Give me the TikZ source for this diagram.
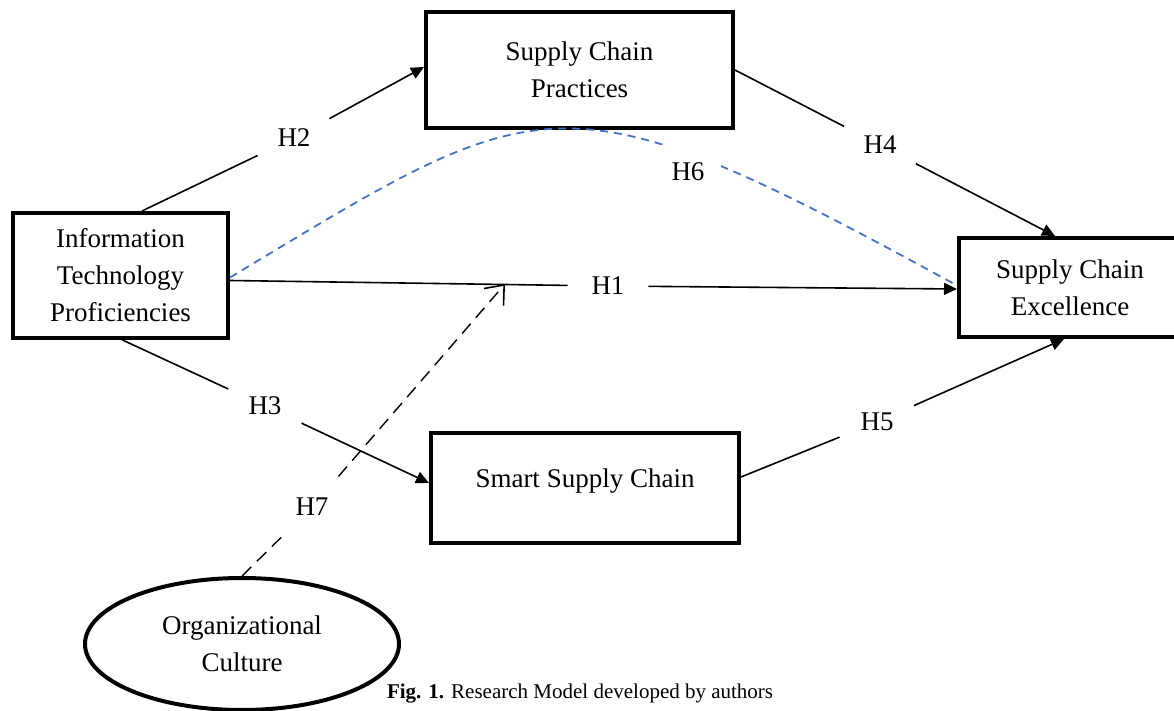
\documentclass[tikz,border=0pt]{standalone}
\usepackage{fontspec}
\setmainfont{Liberation Serif}
\usepackage{xcolor}
\usepackage{tikz}
\usetikzlibrary{arrows.meta,shapes.geometric,calc}
\definecolor{wordblue}{RGB}{68,114,196}

\begin{document}
\begin{tikzpicture}[
  x=0.5pt, y=-0.5pt,
  every node/.style={font=\fontsize{13.5}{18.5}\selectfont},
  construct/.style={draw=black, line width=2pt, align=center, inner sep=0pt},
  hyp/.style={circle, minimum size=40pt, inner sep=0pt},
  conn/.style={line width=0.8pt},
  tip/.style={-{Triangle[length=6.5pt,width=6pt]}},
  moderate/.style={line width=0.7pt, dash pattern=on 6.5pt off 4pt},
  mediate/.style={line width=0.9pt, wordblue, dash pattern=on 4pt off 3pt}
]
\useasboundingbox (0,0) rectangle (1174,711);

\node[construct, minimum width=107.5pt, minimum height=62.5pt] (itp) at (120.5,275.5) {Information\\Technology\\Proficiencies};
\node[construct, minimum width=153.5pt, minimum height=58pt] (scp) at (579.5,70) {Supply Chain\\Practices};
\node[construct, minimum width=111pt, minimum height=49.5pt] (sce) at (1070,287.5) {Supply Chain\\Excellence};
\node[construct, minimum width=154pt, minimum height=55pt, text depth=10pt] (ssc) at (585,488) {Smart Supply Chain};
\node[construct, ellipse, minimum width=157pt, minimum height=66pt] (oc) at (242,644) {Organizational\\Culture};

% hypothesis labels (they break the lines)
\node[hyp] (h1) at (608,286) {H1};
\node[hyp] (h2) at (294,138) {H2};
\node[hyp] (h3) at (265,406) {H3};
\node[hyp] (h4) at (880,145) {H4};
\node[hyp] (h5) at (877,422) {H5};
\node[hyp] (h7) at (312,507) {H7};

\coordinate (itpN) at ($(itp.north)+(21.5,0)$);
\coordinate (itpE) at ($(itp.east)+(0,5)$);
\coordinate (itpS) at ($(itp.south)+(2,0)$);
\coordinate (scpW) at ($(scp.west)+(0,-3)$);
\coordinate (scpE) at (scp.east);
\coordinate (sceN) at ($(sce.north)+(-15,0)$);
\coordinate (sceW) at ($(sce.west)+(0,1.5)$);
\coordinate (sceS) at ($(sce.south)+(-6,0)$);
\coordinate (sscW) at ($(ssc.west)+(0,-5)$);
\coordinate (sscE) at ($(ssc.east)+(0,-11)$);
\coordinate (mod) at (505,284);

\foreach \s/\h/\t in {itpN/h2/scpW, scpE/h4/sceN, itpE/h1/sceW, itpS/h3/sscW, sscE/h5/sceS} {
  \draw[conn] (\s) -- (\h);
  \draw[conn, tip] (\h) -- (\t);
}

% moderation
\draw[moderate] (oc.north) -- (h7);
\draw[moderate, -{Straight Barb[length=8pt,width=13pt,line width=0.8pt]}] (h7) -- (mod);

% mediation
\draw[mediate] ($(itp.east)+(0,2)$) .. controls (545,88) and (558,67) .. ($(sce.west)+(0,-2)$);
\node[fill=white, inner xsep=8pt, inner ysep=9pt] (h6) at (688,172) {H6};

\node[anchor=base west, font=\fontsize{10.5}{12}\selectfont] (cap) at (380,698) {\textbf{Fig. 1.} Research Model developed by authors};
\end{tikzpicture}
\end{document}
